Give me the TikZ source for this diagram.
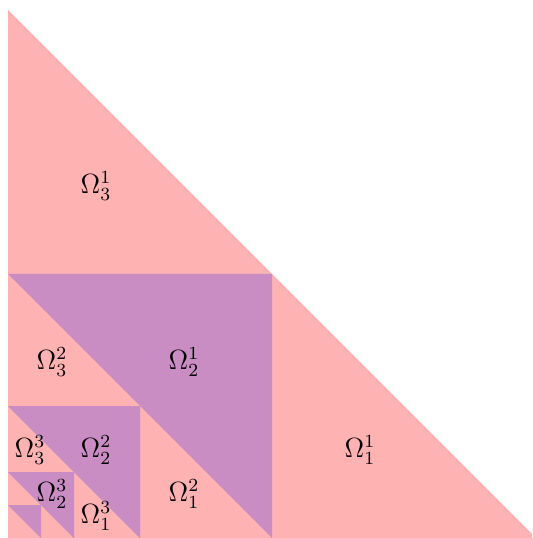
\documentclass[tikz,border=0pt]{standalone}
\usepackage{amsmath}
\usepackage{tikz}
\definecolor{dompink}{RGB}{255,178,178}
\definecolor{dompurple}{RGB}{201,141,196}
\usetikzlibrary{positioning}

\begin{document}
\begin{tikzpicture}[
          x=0.0152cm, y=-0.0152cm,
          pinkpart/.style={fill=dompink, draw=none},
          purplepart/.style={fill=dompurple, draw=none},
          domlabel/.style={inner sep=0pt, font=\large}
        ]
        \useasboundingbox (0,0) rectangle (532,538);
        \begin{scope}
        \clip (0,0) rectangle (532,538);
        % whole triangle
        \coordinate (top) at (8,10);
        \coordinate (corner) at (8,538);
        \coordinate (right) at (536,538);
        \fill[pinkpart] (top) -- (corner) -- (right) -- cycle;

        % purple middle triangles, one per level
        \foreach \h in {264,132,66,33}{
            \fill[purplepart] (8,538-\h) -- (8+\h,538-\h) -- (8+\h,538) -- cycle;
          }
        \end{scope}

        % labels at the centroids
        \foreach \k/\h in {1/264, 2/132, 3/66}{
            \node[domlabel] (om3-\k) at ({8+\h/3},{538-4*\h/3}) {$\Omega_3^{\k}$};
            \node[domlabel] (om2-\k) at ({8+2*\h/3},{538-2*\h/3}) {$\Omega_2^{\k}$};
            \node[domlabel] (om1-\k) at ({8+4*\h/3},{538-\h/3}) {$\Omega_1^{\k}$};
          }
      \end{tikzpicture}
\end{document}
